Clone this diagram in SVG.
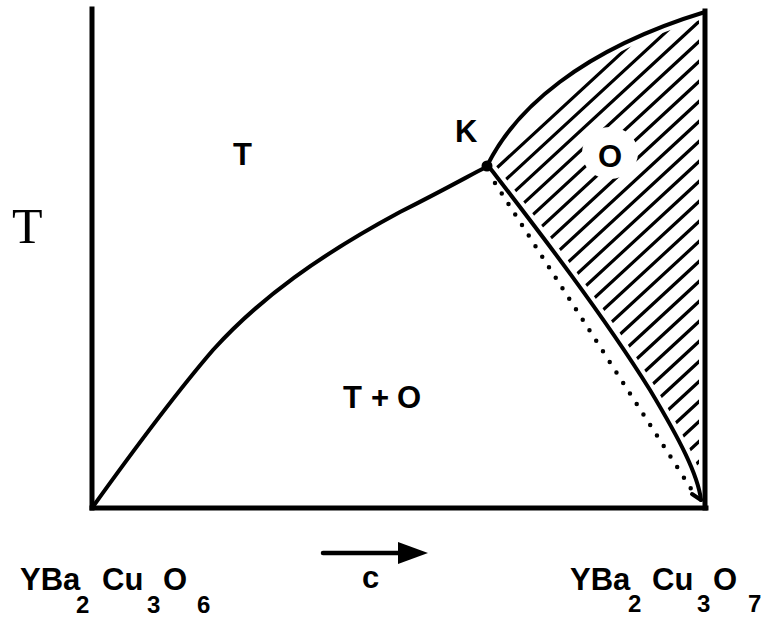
<svg xmlns="http://www.w3.org/2000/svg" width="775" height="632" viewBox="0 0 775 632">
<style>
.lbl{font-family:"Liberation Sans",Arial,sans-serif;font-weight:bold;font-size:31px;fill:#000}
.sub{font-family:"Liberation Sans",Arial,sans-serif;font-weight:bold;font-size:24px;fill:#000}
.ax{stroke:#000;stroke-width:5;fill:none;stroke-linecap:square}
.crv{stroke:#000;stroke-width:4;fill:none;stroke-linecap:round}
.wht{stroke:#fff;stroke-width:12;fill:none}
.hatch{stroke:#000;stroke-width:3.2;fill:none;stroke-linecap:round}
</style>
<defs>
<clipPath id="oreg">
<path d="M490,162 C515,110 580,50 705,12 L705,508 L701,500 C698,475 680,440 650,390 C600,310 530,220 490,168 Z"/>
</clipPath>
</defs>
<rect width="775" height="632" fill="#fff"/>
<g id="O-region">
<path class="hatch" clip-path="url(#oreg)" d="M705,-24 L445,215.7 M705,-4 L445,235.7 M705,16 L445,255.7 M705,36 L445,275.7 M705,56 L445,295.7 M705,76 L445,315.7 M705,96 L445,335.7 M705,116 L445,355.7 M705,136 L445,375.7 M705,156 L445,395.7 M705,176 L445,415.7 M705,196 L445,435.7 M705,216 L445,455.7 M705,236 L445,475.7 M705,256 L445,495.7 M705,276 L445,515.7 M705,296 L445,535.7 M705,316 L445,555.7 M705,336 L445,575.7 M705,356 L445,595.7 M705,376 L445,615.7 M705,396 L445,635.7 M705,416 L445,655.7 M705,436 L445,675.7 M705,456 L445,695.7 M705,476 L445,715.7"/>
<ellipse cx="610" cy="153" rx="28" ry="26" fill="#fff"/>
</g>
<g id="connectors">
<path class="wht" d="M490,162 C515,110 580,50 705,12"/>
<path class="wht" d="M490,168 C530,220 600,310 650,390 C680,440 698,475 701,500"/>
<line class="wht" x1="705" y1="12" x2="705" y2="508"/>
<line class="ax" x1="92" y1="9" x2="92" y2="508"/>
<line class="ax" x1="92" y1="508" x2="706" y2="508"/>
<line class="ax" x1="705" y1="11" x2="705" y2="508"/>
<path class="crv" d="M92,508 C130,455 170,400 213,350 C260,298 320,255 400,212 C440,192 465,178 486,167"/>
<path class="crv" d="M488,164 C515,110 580,50 705,12"/>
<path class="crv" d="M490,168 C530,220 600,310 650,390 C680,440 698,475 701,500"/>
<line class="crv" x1="692" y1="494" x2="701" y2="500"/>
<line x1="495" y1="183" x2="697" y2="498" stroke="#000" stroke-width="4.5" stroke-linecap="round" stroke-dasharray="0 12.5"/>
<line x1="323" y1="553" x2="402" y2="553" stroke="#000" stroke-width="4.5" stroke-linecap="round"/>
<polygon points="398,542 428,553 398,564" fill="#000"/>
</g>
<g id="K">
<circle cx="487" cy="166" r="5.5" fill="#000"/>
<text class="lbl" x="455" y="142">K</text>
</g>
<g id="T-region"><text class="lbl" x="233" y="165">T</text></g>
<g id="O-label"><text class="lbl" x="598" y="167">O</text></g>
<g id="TO-region">
<text class="lbl" y="408"><tspan x="343">T</tspan><tspan x="371">+</tspan><tspan x="397">O</tspan></text>
</g>
<g id="axis-T"><text x="12" y="243" font-family="Liberation Serif,'Times New Roman',serif" font-size="50" fill="#000">T</text></g>
<g id="left-label">
<text class="lbl" x="20" y="590">YBa</text>
<text class="sub" x="76" y="613">2</text>
<text class="lbl" x="102" y="590">Cu</text>
<text class="sub" x="147" y="613">3</text>
<text class="lbl" x="163" y="590">O</text>
<text class="sub" x="197" y="613">6</text>
</g>
<g id="right-label">
<text class="lbl" x="570" y="590">YBa</text>
<text class="sub" x="628" y="612">2</text>
<text class="lbl" x="652" y="590">Cu</text>
<text class="sub" x="697" y="612">3</text>
<text class="lbl" x="713" y="590">O</text>
<text class="sub" x="748" y="612">7</text>
</g>
<g id="c-label"><text class="lbl" x="362" y="588" font-size="33">c</text></g>
</svg>
